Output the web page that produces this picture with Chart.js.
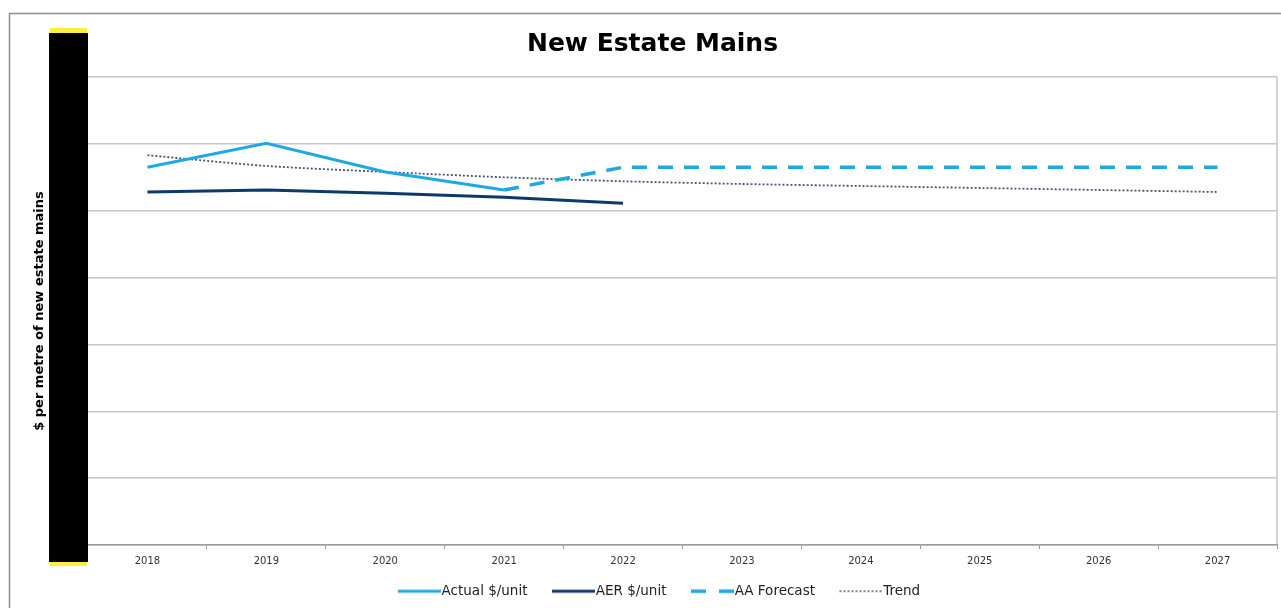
<!DOCTYPE html>
<html>
<head>
<meta charset="utf-8">
<script src="https://cdn.jsdelivr.net/npm/chart.js@4.4.1/dist/chart.umd.min.js"></script>
<style>
  html, body { margin: 0; padding: 0; background: #ffffff; }
  #wrap { width: 1281px; height: 608px; position: relative; }
</style>
</head>
<body>
<div id="wrap"><canvas id="ichart" width="1281" height="608"></canvas></div>
<script>
// Years on the x axis
const years = ["2018", "2019", "2020", "2021", "2022", "2023", "2024", "2025", "2026", "2027"];

// $ per metre values (axis values are hidden in the original)
const actualUnit = [565, 601, 558, 531, null, null, null, null, null, null];
const aerUnit = [528, 531, 526, 520, 511, null, null, null, null, null];
const aaForecast = [null, null, null, 531, 565, 565, 565, 565, 565, 565];
const trendUnit = [583, 567, 558, 550, 544, 540, 537, 534, 531, 528];

const yTicks = { min: 0, max: 700, step: 100 };

const COL_LIGHT = "#1ea9e4";
const COL_DARK = "#0d3a6c";
const COL_TREND = "#4a5670";
const COL_GRID = "#c6c6c6";

//Legend samples: little canvases with the line drawn the same way as in the plot
const BOX_W = 50; //<--- legend box width used by Chart.js
const IMG_W = BOX_W + 14; //<--- sample image, 7px wider than the box on each side
function legendLine(color, width, dash) {
    const c = document.createElement("canvas");
    c.width = IMG_W;
    c.height = 12;
    const g = c.getContext("2d");
    g.strokeStyle = color;
    g.lineWidth = width;
    g.setLineDash(dash);
    g.beginPath();
    g.moveTo(IMG_W - 44, 6);
    g.lineTo(IMG_W - 1, 6);
    g.stroke();
    return c;
}

// frame round the whole chart and the blacked out y axis values
const decorations = {
    id: "decorations",
    beforeDraw(chart) {
        const ctx = chart.ctx;
        const a = chart.chartArea;
        ctx.save();
        ctx.strokeStyle = "#8c8c8c";
        ctx.lineWidth = 1.5;
        ctx.beginPath();
        ctx.moveTo(1290, 13.5);
        ctx.lineTo(9.5, 13.5);
        ctx.lineTo(9.5, 620);
        ctx.stroke();
        //right edge of the plot
        ctx.strokeStyle = COL_GRID;
        ctx.lineWidth = 1.5;
        ctx.beginPath();
        ctx.moveTo(a.right, a.top);
        ctx.lineTo(a.right, a.bottom);
        ctx.stroke();
        ctx.restore();
    },
    afterDraw(chart) {
        const ctx = chart.ctx;
        const a = chart.chartArea;
        ctx.save();
        ctx.fillStyle = "#ffef3a";
        ctx.fillRect(a.left - 38, a.top - 49, 37, 6);
        ctx.fillRect(a.left - 38, a.bottom + 16, 37, 5);
        ctx.fillStyle = "#000000";
        ctx.fillRect(a.left - 39, a.top - 44, 39, a.bottom - a.top + 61);
        ctx.restore();
    }
};

new Chart("ichart", {
    type: "line",
    data: {
        labels: years,
        datasets: [
            {
                label: "Actual $/unit",
                data: actualUnit,
                borderColor: COL_LIGHT,
                backgroundColor: COL_LIGHT,
                borderWidth: 3,
                pointRadius: 0,
                pointStyle: legendLine(COL_LIGHT, 3, []),
                tension: 0,
                order: 2
            },
            {
                label: "AER $/unit",
                data: aerUnit,
                borderColor: COL_DARK,
                backgroundColor: COL_DARK,
                borderWidth: 3,
                pointRadius: 0,
                pointStyle: legendLine(COL_DARK, 3, []),
                tension: 0,
                order: 1
            },
            {
                label: "AA Forecast",
                data: aaForecast,
                borderColor: COL_LIGHT,
                backgroundColor: COL_LIGHT,
                borderWidth: 3.5,
                borderDash: [15, 11],
                pointRadius: 0,
                pointStyle: legendLine(COL_LIGHT, 3.5, [15, 13]),
                tension: 0,
                order: 3
            },
            {
                label: "Trend",
                data: trendUnit,
                borderColor: COL_TREND,
                backgroundColor: COL_TREND,
                borderWidth: 1.8,
                borderDash: [2, 2],
                pointRadius: 0,
                pointStyle: legendLine(COL_TREND, 1.5, [2, 2]),
                tension: 0.3,
                order: 4
            }
        ]
    },
    options: {
        responsive: false,
        animation: false,
        layout: { padding: { left: 28, right: 4, top: 0, bottom: 0 } },
        plugins: {
            title: {
                display: true,
                text: "New Estate Mains",
                color: "#000000",
                font: { family: "DejaVu Sans", size: 25, weight: "bold" },
                padding: { top: 29, bottom: 18 }
            },
            legend: {
                position: "bottom",
                labels: {
                    usePointStyle: true,
                    pointStyleWidth: BOX_W,
                    color: "#222222",
                    padding: 11.5,
                    font: { family: "DejaVu Sans", size: 13.5 },
                    sort: (a, b) => a.datasetIndex - b.datasetIndex
                }
            },
            tooltip: { enabled: false }
        },
        scales: {
            x: {
                offset: true,
                grid: {
                    offset: true,
                    drawOnChartArea: false,
                    drawTicks: true,
                    tickLength: 4,
                    color: "#9a9a9a"
                },
                border: { color: "#9a9a9a", width: 1.5 },
                ticks: {
                    color: "#333333",
                    padding: 6,
                    font: { family: "DejaVu Sans", size: 10 }
                }
            },
            y: {
                min: yTicks.min,
                max: yTicks.max,
                ticks: { stepSize: yTicks.step, display: false },
                grid: { color: COL_GRID, lineWidth: 1.5, drawTicks: false },
                border: { display: false },
                title: {
                    display: true,
                    text: "$ per metre of new estate mains",
                    color: "#000000",
                    font: { family: "DejaVu Sans", size: 13, weight: "bold" }
                },
                afterFit(scale) { scale.width = 60; }
            }
        }
    },
    plugins: [decorations]
});
</script>
</body>
</html>
